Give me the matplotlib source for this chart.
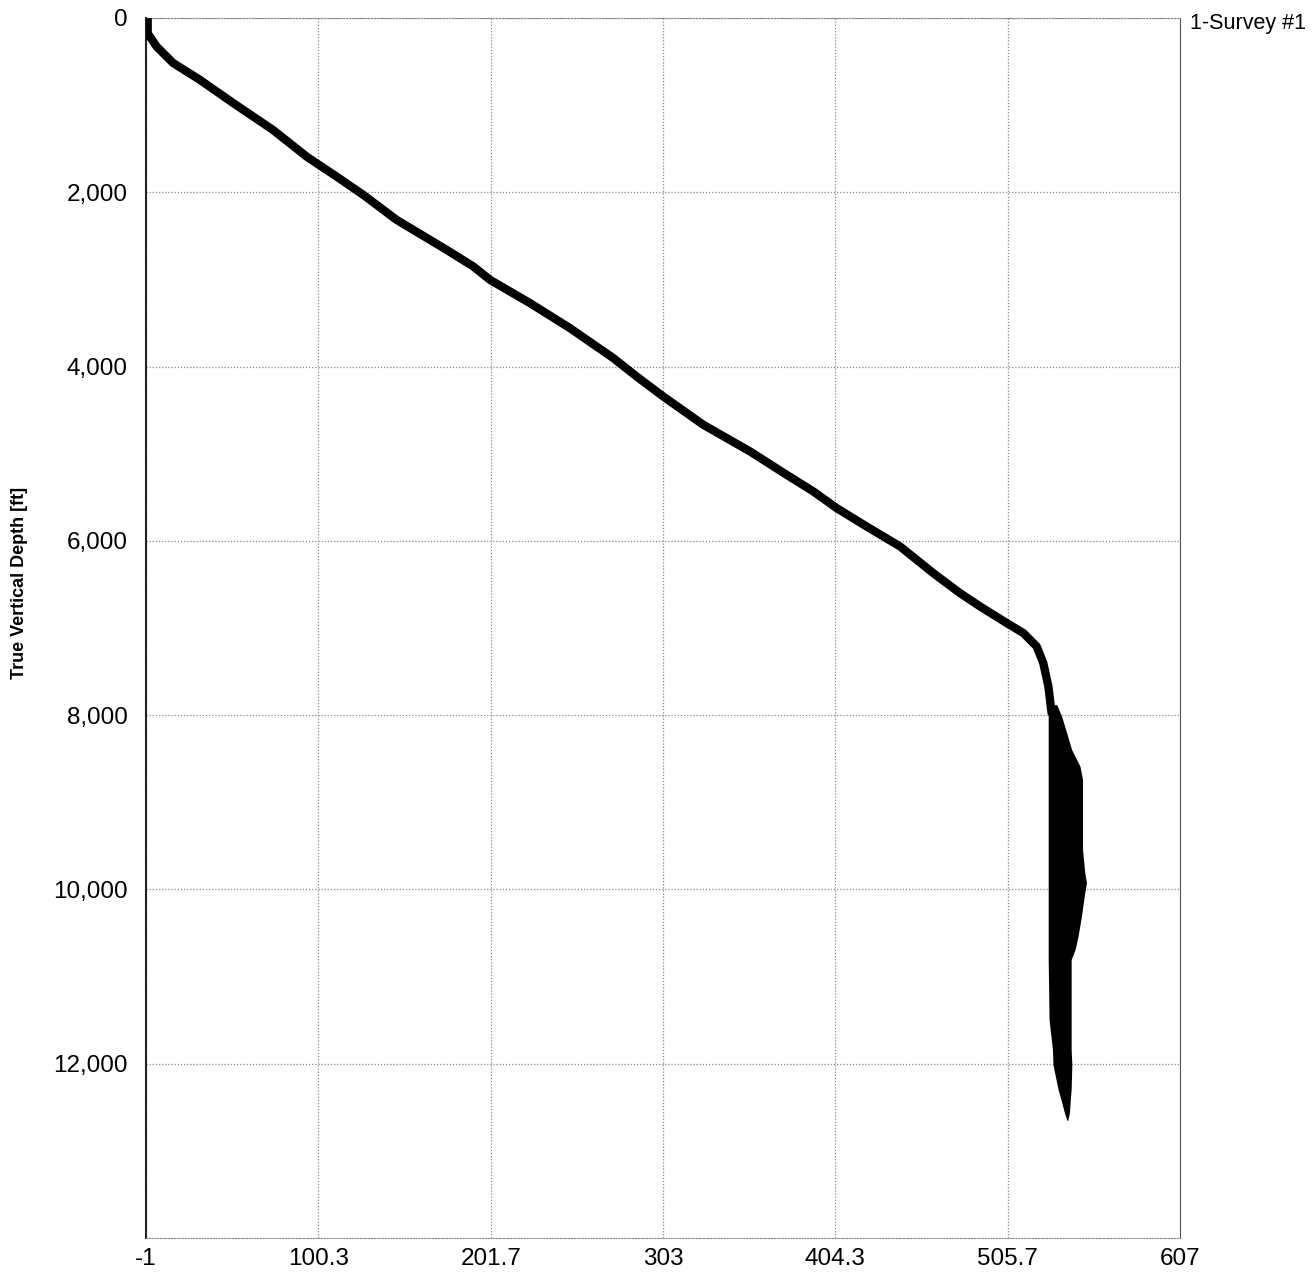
import numpy as np
import matplotlib.pyplot as plt

# vertical section vs true vertical depth
vs = [0, 0, 5.3, 14.9, 30.8, 50.2, 73.7, 93.7, 111.1, 126.8, 146.4, 175.8, 191.5,
      201.3, 224.8, 248.3, 273.8, 287.5, 303.2, 326.7, 354.2, 375.7, 391.4, 405.1,
      422.7, 442.4, 461.9, 477.6, 489.4, 505.1, 514.9, 522.7, 526.6, 529.6, 531.5]
tvd = [0, 176, 329, 516, 711, 975, 1285, 1594, 1820, 2030, 2317, 2661, 2852,
       3005, 3272, 3559, 3903, 4114, 4344, 4668, 4974, 5242, 5433, 5624,
       5835, 6064, 6370, 6599, 6752, 6943, 7058, 7211, 7402, 7670, 7975]

# lower section is drawn as a dense band: left/right edges of it
env_tvd = [7880, 8014, 8200, 8396, 8587, 8740, 9543, 9807, 9922, 10036, 10312,
           10541, 10690, 10805, 11493, 11837, 12009, 12296, 12411, 12560, 12650]
env_left = [529.5, 529.5, 529.5, 529.5, 529.5, 529.5, 529.5, 529.5, 529.5, 529.5,
            529.5, 529.5, 529.5, 529.5, 530, 532, 532.3, 535.3, 537, 539, 540.5]
env_right = [534.5, 537.4, 540.3, 543.3, 548.2, 549.7, 549.7, 551, 552, 551, 549,
             547, 545.3, 543, 543, 543, 543.4, 543, 542.5, 542, 541]

xticks = [-1, 100.3, 201.7, 303, 404.3, 505.7, 607]
xlabels = ['-1', '100.3', '201.7', '303', '404.3', '505.7', '607']
yticks = [0, 2000, 4000, 6000, 8000, 10000, 12000]

plt.rcParams['font.family'] = ['Liberation Sans', 'DejaVu Sans']

fig = plt.figure(figsize=(13.16, 12.8), dpi=100)
ax = fig.add_axes([146/1316, 1 - 1238/1280, (1180 - 146)/1316, (1238 - 18)/1280])

ax.plot(vs, tvd, color='black', lw=6, solid_capstyle='round', solid_joinstyle='round', zorder=3)
ax.fill_betweenx(env_tvd, env_left, env_right, color='black', lw=0, zorder=3)

ax.set_xlim(-1, 607)
ax.set_ylim(14000, 0)
ax.set_xticks(xticks)
ax.set_xticklabels(xlabels)
ax.set_yticks(yticks)
ax.set_yticklabels([f'{v:,}' for v in yticks])
ax.tick_params(length=0, labelsize=17.5, pad=7)
ax.tick_params(axis='y', pad=13)

ax.grid(True, color='#888888', lw=0.9, ls=(0, (1, 1.5)))
for side in ['top', 'bottom']:
    ax.spines[side].set_color('#888888')
    ax.spines[side].set_linestyle((0, (1, 1.5)))
ax.spines['left'].set_color('#222222')
ax.spines['left'].set_linewidth(1.5)
ax.spines['right'].set_color('#555555')
ax.spines['right'].set_linestyle((0, (1, 1)))

fig.text(20/1316, 1 - 583/1280, 'True Vertical Depth [ft]', rotation=90,
         ha='center', va='center', fontsize=13, fontweight='bold')
fig.text(1190/1316, 1 - 23/1280, '1-Survey #1', ha='left', va='center', fontsize=15.5)

fig.savefig('out.png', dpi=100)
